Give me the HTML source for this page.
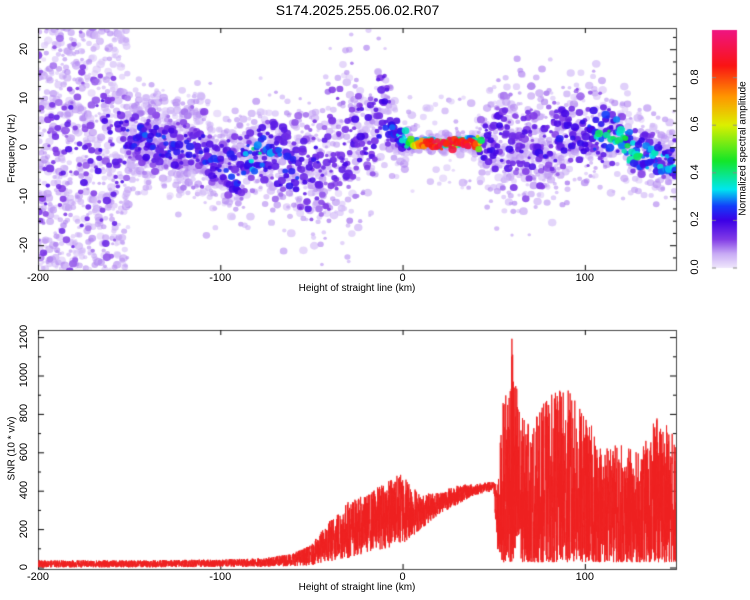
<!DOCTYPE html>
<html><head><meta charset="utf-8">
<style>
body{margin:0;background:#fff;width:750px;height:600px;overflow:hidden;font-family:"Liberation Sans",sans-serif;}
#wrap{position:relative;width:750px;height:600px;}
canvas{position:absolute;left:0;top:0;}
.t{position:absolute;font-size:11px;color:#000;white-space:nowrap;}
.r{transform:rotate(-90deg);transform-origin:center center;}
</style></head>
<body>
<div id="wrap">
<canvas id="c" width="750" height="600"></canvas>
<div class="t" style="left:0;width:715px;text-align:center;top:2px;font-size:14px;">S174.2025.255.06.02.R07</div>
<div class="t" style="left:38px;width:638px;text-align:center;top:283px;font-size:10px;">Height of straight line (km)</div>
<div class="t" style="left:38px;width:638px;text-align:center;top:582px;font-size:10px;">Height of straight line (km)</div>
<div class="t r" style="left:-28px;top:143px;width:80px;text-align:center;font-size:10px;">Frequency (Hz)</div>
<div class="t r" style="left:-28px;top:443px;width:80px;text-align:center;font-size:10px;">SNR (10 * v/v)</div>
<div class="t r" style="left:663px;top:143px;width:160px;text-align:center;font-size:10px;">Normalized spectral amplitude</div>
<div id="labels"></div>
</div>
<script>
// ---- data ----
const trackX      = [-200,-190,-180,-170,-160,-150,-140,-130,-120,-110,-100,-90,-80,-70,-60,-50,-40,-30,-20,-10,-5,0,10,20,30,40,45,50,60,70,80,90,100,110,120,130,140,150];
const trackF      = [0,0,0,0,0,2,2,1,0,0,-3,-5,0,-1,-4,-5,0,0,3,8,5,1,1,1,1,1,1,2,0,0,0,3,4,3,1,-1,-2,-3];
const trackSpread = [22,22,22,20,18,4,4,4,5,5,4,5,4,6,6,8,9,9,8,6,3,1.5,0.8,0.8,0.8,0.8,4,6,8,7,6,6,5,4,4,3,3,3];
const trackLevel  = [0.1,0.12,0.12,0.12,0.15,0.18,0.22,0.2,0.16,0.2,0.22,0.2,0.35,0.22,0.2,0.18,0.14,0.13,0.16,0.22,0.25,0.3,0.8,0.95,0.95,0.9,0.18,0.16,0.13,0.15,0.16,0.16,0.2,0.38,0.4,0.35,0.32,0.28];
const bgX       = [-200,-150,-120,-100,-60,-30,0,40,50,70,100,150];
const bgDensity = [4,4,3,2,1.5,1.5,0.5,0.5,1.5,1.5,1,0.8];
const snrX     = [-200,-150,-100,-80,-70,-60,-50,-40,-30,-20,-10,0,10,20,30,40,50,52,55,60,65,70,80,90,100,110,120,130,140,150];
const snrUpper = [40,40,45,50,60,80,120,250,350,380,450,500,380,400,430,440,450,460,850,1200,800,750,900,950,800,650,650,600,800,700];
const snrLower = [3,3,5,5,8,10,15,30,50,80,100,120,200,280,330,380,400,100,30,30,30,30,30,30,30,30,30,30,30,30];
const xTicks = [-200,-100,0,100];
const fTicks = [-20,-10,0,10,20];
const sTicks = [0,200,400,600,800,1000,1200];
const cTicks = [0.0,0.2,0.4,0.6,0.8];
// ---- axes ----
const L=38,R=676,T1=28,B1=270,T2=330,B2=569;
const xs=v=>L+(v+200)/350*(R-L);
const fy=v=>147.7-v*4.9;
const sy=v=>568-v*0.192;
const cy=v=>268-v*238;
let seed=12345;function rnd(){seed=(seed*1103515245+12345)%2147483648;return seed/2147483648;}
function interp(X,Y,x){if(x<=X[0])return Y[0];for(let i=1;i<X.length;i++){if(x<=X[i]){const t=(x-X[i-1])/(X[i]-X[i-1]);return Y[i-1]+t*(Y[i]-Y[i-1]);}}return Y[Y.length-1];}
const stops=[[0,[240,232,252]],[0.06,[200,170,245]],[0.12,[130,60,230]],[0.2,[60,0,230]],[0.26,[20,60,250]],[0.33,[0,230,240]],[0.45,[20,230,40]],[0.6,[220,240,0]],[0.72,[255,150,0]],[0.85,[250,20,20]],[1,[240,20,130]]];
function col(v,a){v=Math.max(0,Math.min(1,v));for(let i=1;i<stops.length;i++){if(v<=stops[i][0]){const t=(v-stops[i-1][0])/(stops[i][0]-stops[i-1][0]);const c=stops[i-1][1].map((q,k)=>Math.round(q+t*(stops[i][1][k]-q)));return `rgba(${c[0]},${c[1]},${c[2]},${a})`;}}return 'rgb(240,20,130)';}
const c=document.getElementById('c').getContext('2d');
// heatmap
c.save();c.beginPath();c.rect(L,T1,R-L,B1-T1);c.clip();
// light background speckle
for(let x=-200;x<=150;x+=0.35){
 const d=interp(bgX,bgDensity,x);const n=Math.floor(d)+(rnd()<d%1?1:0);
 const f0=interp(trackX,trackF,x),sp=Math.max(8,interp(trackX,trackSpread,x)*1.3);
 for(let k=0;k<n;k++){const f=x<-150?(rnd()*50-25):f0+(rnd()+rnd()-1)*sp*1.5;
  const r=1.5+rnd()*2.5;c.fillStyle=col(0.03+0.06*rnd(),0.55);
  c.beginPath();c.ellipse(xs(x),fy(f),r*1.1,r,0,0,7);c.fill();}
}
for(let pass=0;pass<3;pass++){
 for(let x=-200;x<=150;x+=(pass==0?0.35:0.6)){
  const f0=interp(trackX,trackF,x),sp=interp(trackX,trackSpread,x),lv=interp(trackX,trackLevel,x);
  const g=(rnd()+rnd()+rnd()-1.5)*2*sp*(pass==0?1.4:0.7);
  const f=f0+g;
  let v;
  if(pass==0) v=0.04+0.05*rnd();
  else v=0.06+lv*(pass==2?1:0.6)*Math.exp(-g*g/(2*sp*sp))*(0.5+0.6*rnd());
  if(sp<1.5&&pass==2) v=lv*(0.85+0.15*rnd());
  const r=1.5+rnd()*2.5;
  c.fillStyle=col(v,pass==0?0.6:0.9);
  c.beginPath();c.ellipse(xs(x),fy(f),r*1.1,r,0,0,7);c.fill();
 }
}
c.restore();
// frames
function frame(t,b){c.strokeStyle='#444';c.lineWidth=1;c.strokeRect(L+0.5,t+0.5,R-L,b-t);}
frame(T1,B1);frame(T2,B2);
const lab=document.getElementById('labels');
function addLabel(txt,x,y,rot,name){const d=document.createElement('div');d.className='t'+(rot?' r':'');d.textContent=txt;


d.style.left=(x-20)+'px';d.style.top=(y-7)+'px';d.style.width='40px';d.style.textAlign='center';lab.appendChild(d);}
c.strokeStyle='#000';
for(const t of xTicks){const X=xs(t);[[T1,B1],[T2,B2]].forEach(([a,b])=>{c.beginPath();c.moveTo(X+.5,b);c.lineTo(X+.5,b-5);c.moveTo(X+.5,a);c.lineTo(X+.5,a+5);c.stroke();});
 addLabel(String(t),X,B1+9,false,'top-x-tick-label');addLabel(String(t),X,B2+9,false,'bottom-x-tick-label');}
for(let t=-25;t<=25;t+=2.5){const Y=fy(t);if(Y<T1||Y>B1)continue;const w=(t%10==0)?6:3;c.beginPath();c.moveTo(L,Y);c.lineTo(L+w,Y);c.moveTo(R,Y);c.lineTo(R-w,Y);c.stroke();}
for(const t of fTicks)addLabel(String(t),24,fy(t),true,'top-y-tick-label');
for(let t=0;t<=1200;t+=100){const Y=sy(t);const w=(t%200==0)?6:3;c.beginPath();c.moveTo(L,Y);c.lineTo(L+w,Y);c.moveTo(R,Y);c.lineTo(R-w,Y);c.stroke();}
for(const t of sTicks)addLabel(String(t),24,sy(t),true,'bottom-y-tick-label');
// SNR series
c.save();c.beginPath();c.rect(L,T2,R-L,B2-T2);c.clip();
c.strokeStyle='#ee2020';c.lineWidth=0.9;c.beginPath();
let first=true;
for(let x=-200;x<=150;x+=0.07){const u=interp(snrX,snrUpper,x),lo=interp(snrX,snrLower,x);
 let r=rnd();r=x>50?Math.pow(r,1.5):r;const v=lo+(u-lo)*r;
 const X=xs(x),Y=sy(v);if(first){c.moveTo(X,Y);first=false;}else c.lineTo(X,Y);}
c.stroke();c.restore();
// colorbar
const g=c.createLinearGradient(0,cy(0),0,cy(1));stops.forEach(s=>g.addColorStop(s[0],col(s[0],1)));
c.fillStyle=g;c.fillRect(712,cy(1),25,cy(0)-cy(1));
for(const t of cTicks){const Y=cy(t);c.strokeStyle='#888';c.beginPath();c.moveTo(712,Y);c.lineTo(716,Y);c.moveTo(737,Y);c.lineTo(733,Y);c.stroke();addLabel(t.toFixed(1),695,Y,true,'colorbar-tick-label');}
</script>
</body></html>
